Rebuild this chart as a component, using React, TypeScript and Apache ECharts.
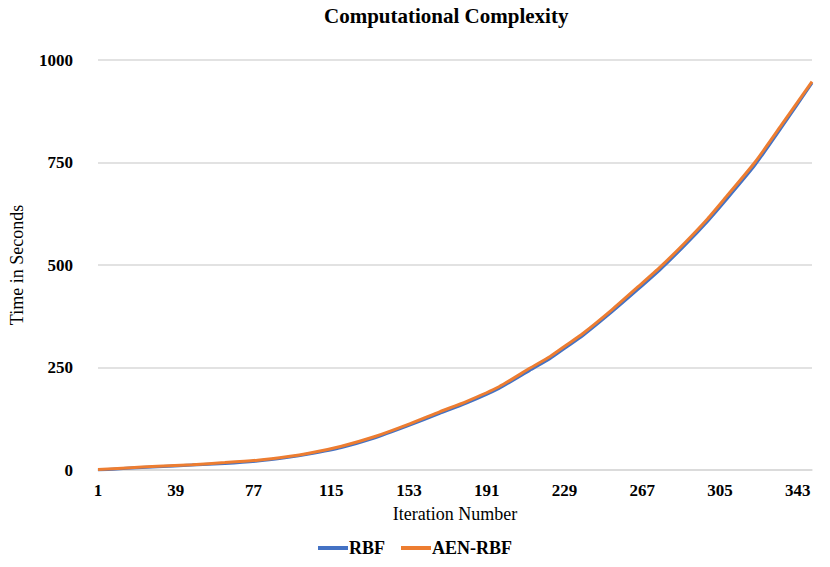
import React, { useEffect, useRef } from "react";
import * as echarts from "echarts";

const TITLE = "Computational Complexity";
const X_NAME = "Iteration Number";
const Y_NAME = "Time in Seconds";
const SERIES_NAMES = ["RBF", "AEN-RBF"];
const COLORS = ["#4472C4", "#ED7D31"];

// categories: iteration numbers 1..350
const ITERATION_COUNT = 350;
const categories: string[] = Array.from({ length: ITERATION_COUNT }, (_, k) => String(k + 1));

const sampleIterations = [1, 15, 30, 47, 63, 79, 94, 104, 120, 136, 152, 168, 181, 197, 212, 222, 230, 238, 252, 265, 276, 288, 299, 307, 322, 335, 350];
const aenRbfValues = [1, 5, 9, 13, 18, 24, 33, 41, 58, 81, 110, 142, 167, 203, 248, 277, 305, 333, 390, 447, 496, 555, 613, 660, 750, 841, 947];
const rbfValues = [0, 4, 8, 12, 16, 22, 31, 39, 55, 78, 107, 138, 163, 199, 243, 272, 300, 328, 385, 441, 490, 549, 607, 653, 743, 835, 944];

const Y_MIN = 0;
const Y_MAX = 1000;
const Y_INTERVAL = 250;

const SERIF = "'Times New Roman', 'Liberation Serif', serif";

export default function App() {
  const ref = useRef<HTMLDivElement>(null);

  useEffect(() => {
    if (!ref.current) return;
    const chart = echarts.init(ref.current, undefined, { renderer: "svg" });
    const toPairs = (vals: number[]) => sampleIterations.map((it, i) => [String(it), vals[i]]);
    chart.setOption({
      animation: false,
      backgroundColor: "#ffffff",
      title: {
        text: TITLE,
        left: 319,
        top: 0,
        textStyle: { fontFamily: SERIF, fontSize: 21, fontWeight: "bold", color: "#000" },
      },
      grid: { left: 90, right: 18, top: 60, bottom: 97, containLabel: false },
      legend: {
        bottom: 5,
        left: "center",
        itemWidth: 30,
        itemHeight: 4,
        itemGap: 16,
        icon: "rect",
        textStyle: { fontFamily: SERIF, fontSize: 18, fontWeight: "bold", color: "#000", padding: [0, 0, 0, -4] },
        data: SERIES_NAMES,
      },
      xAxis: {
        type: "category",
        data: categories,
        boundaryGap: false,
        name: X_NAME,
        nameLocation: "middle",
        nameGap: 35,
        nameTextStyle: { fontFamily: SERIF, fontSize: 18, color: "#000" },
        axisLine: { show: true, lineStyle: { color: "#d9d9d9", width: 1.5 } },
        axisTick: { show: false },
        axisLabel: {
          interval: 37,
          margin: 12,
          fontFamily: SERIF,
          fontSize: 17,
          fontWeight: "bold",
          color: "#000",
        },
        splitLine: { show: false },
      },
      yAxis: {
        type: "value",
        min: Y_MIN,
        max: Y_MAX,
        interval: Y_INTERVAL,
        name: Y_NAME,
        nameLocation: "middle",
        nameRotate: 90,
        nameGap: 72,
        nameTextStyle: { fontFamily: SERIF, fontSize: 18, color: "#000" },
        axisLine: { show: false },
        axisTick: { show: false },
        axisLabel: {
          margin: 25,
          fontFamily: SERIF,
          fontSize: 17,
          fontWeight: "bold",
          color: "#000",
          formatter: (v: number) => String(v),
        },
        splitLine: { lineStyle: { color: "#d9d9d9", width: 1.5 } },
      },
      series: [
        {
          name: SERIES_NAMES[0],
          type: "line",
          data: toPairs(rbfValues),
          showSymbol: false,
          symbol: "none",
          smooth: 0.2,
          lineStyle: { color: COLORS[0], width: 3 },
          itemStyle: { color: COLORS[0] },
        },
        {
          name: SERIES_NAMES[1],
          type: "line",
          data: toPairs(aenRbfValues),
          showSymbol: false,
          symbol: "none",
          smooth: 0.2,
          lineStyle: { color: COLORS[1], width: 3 },
          itemStyle: { color: COLORS[1] },
        },
      ],
    });
    return () => chart.dispose();
  }, []);

  return <div ref={ref} style={{ position: "fixed", left: 0, top: 0, width: 830, height: 567 }} />;
}
